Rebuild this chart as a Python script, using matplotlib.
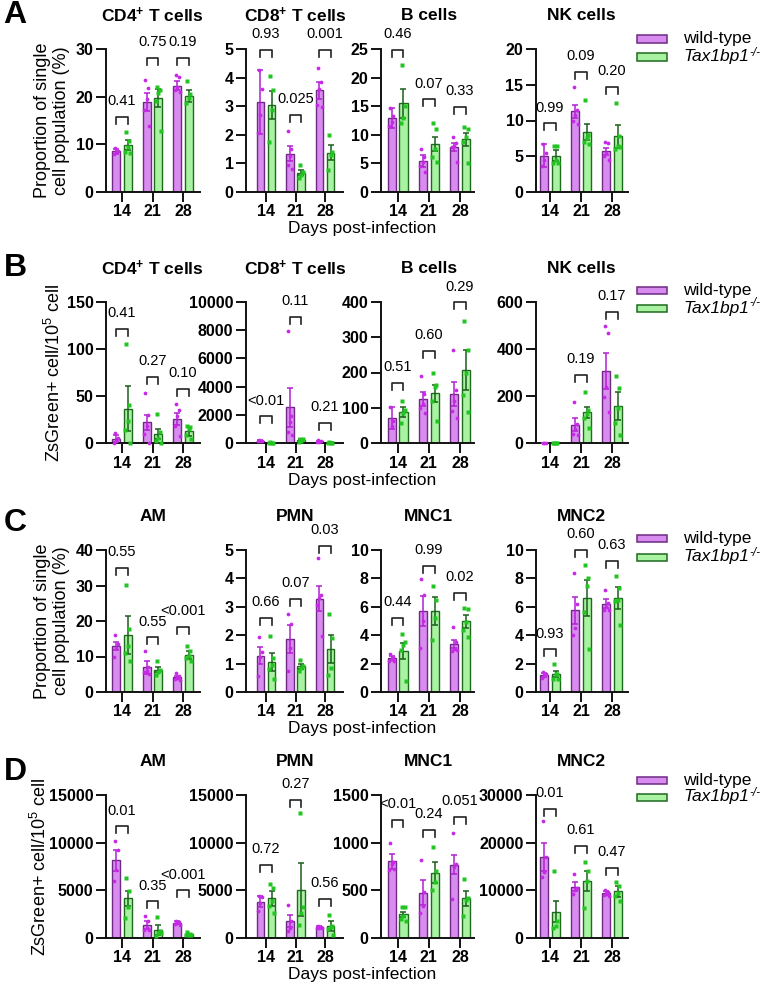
import matplotlib
matplotlib.use('Agg')
import matplotlib.pyplot as plt
from matplotlib.patches import Rectangle

plt.rcParams['font.family'] = ['Liberation Sans', 'DejaVu Sans']
plt.rcParams['mathtext.fontset'] = 'custom'
plt.rcParams['mathtext.rm'] = 'Liberation Sans'
plt.rcParams['mathtext.it'] = 'Liberation Sans:italic'
plt.rcParams['mathtext.bf'] = 'Liberation Sans:bold'
plt.rcParams['mathtext.default'] = 'regular'

# ---------------- data ----------------
days = ['14', '21', '28']
series = ['wild-type', 'Tax1bp1']
series_sup = [None, '-/-']

# Row A: proportion of single cell population (%)
A_titles = [r'CD4$^{\mathbf{+}}$ T cells', r'CD8$^{\mathbf{+}}$ T cells', 'B cells', 'NK cells']
A_yticks = [[0, 10, 20, 30], [0, 1, 2, 3, 4, 5], [0, 5, 10, 15, 20, 25], [0, 5, 10, 15, 20]]
A_wt_mean = [[8.5, 18.8, 22.3], [3.15, 1.34, 3.56], [12.9, 5.4, 7.9], [5.1, 11.3, 5.7]]
A_wt_sem = [[0.6, 1.9, 1.0], [1.13, 0.26, 0.30], [1.7, 1.0, 0.7], [1.6, 0.9, 0.5]]
A_ko_mean = [[9.9, 19.7, 20.1], [3.04, 0.68, 1.38], [15.5, 8.4, 9.2], [5.1, 8.4, 7.8]]
A_ko_sem = [[1.1, 1.9, 1.3], [0.50, 0.10, 0.27], [2.5, 1.3, 1.2], [0.8, 1.1, 1.6]]
A_wt_pts = [[[9.2, 8.6, 8.3, 7.9], [23.4, 21.8, 19.5, 17.2, 13.8], [24.6, 24.2, 22.0, 21.5, 20.9]],
            [[4.25, 3.6, 2.7, 2.05], [2.14, 1.5, 1.25, 0.95, 0.82], [4.32, 3.86, 3.6, 3.05, 2.98]],
            [[14.6, 13.2, 12.2, 11.6], [7.6, 6.2, 5.2, 4.5, 3.5], [9.7, 8.5, 8.0, 7.8, 5.3]],
            [[6.7, 5.5, 4.5, 3.7], [14.7, 11.5, 10.8, 10.0, 9.5], [7.0, 6.9, 5.5, 5.0, 4.5]]]
A_ko_pts = [[[12.6, 10.6, 9.5, 8.4, 8.2], [22.0, 21.5, 20.8, 19.0, 12.8], [23.3, 20.5, 19.8, 18.6]],
            [[4.05, 3.55, 2.85, 1.75], [0.96, 0.7, 0.6, 0.5], [2.01, 1.4, 1.3, 0.76]],
            [[22.2, 15.0, 13.0, 12.0], [12.0, 11.1, 7.6, 6.1, 5.2], [11.4, 11.1, 9.7, 8.8, 5.0]],
            [[6.5, 6.5, 4.5, 4.0, 4.0], [12.9, 8.0, 7.5, 7.0, 6.7], [12.4, 7.8, 6.5, 6.0, 6.3]]]
A_bracket = [[15.8, 28.1, 28.1], [4.98, 2.69, 4.98], [24.9, 16.2, 14.9], [9.6, 16.8, 14.7]]
A_p = [['0.41', '0.75', '0.19'], ['0.93', '0.025', '0.001'], ['0.46', '0.07', '0.33'], ['0.99', '0.09', '0.20']]

# Row B: ZsGreen+ cells per 10^5 cells
B_titles = A_titles
B_yticks = [[0, 50, 100, 150], [0, 2000, 4000, 6000, 8000, 10000], [0, 100, 200, 300, 400], [0, 200, 400, 600]]
B_wt_mean = [[4.6, 21.9, 25.8], [150, 2540, 120], [70.6, 125, 139], [0, 78, 306]]
B_wt_sem = [[3.5, 8.0, 6.5], [30, 1390, 40], [32, 20, 35], [0, 28, 75]]
B_ko_mean = [[36.4, 9.9, 12.4], [20, 190, 30], [89, 141, 207], [0, 130, 158]]
B_ko_sem = [[24, 5.5, 5.0], [10, 60, 10], [14, 24, 57], [0, 25, 58]]
B_wt_pts = [[[11, 5, 2.5, 0], [53, 30, 18, 10, 0], [41, 35, 29, 18, 7]],
            [[200, 160, 130, 110], [7950, 1900, 1500, 800, 550], [180, 150, 100, 60]],
            [[103, 62, 47], [190, 140, 110, 100, 85], [264, 150, 120, 90, 71]],
            [[0, 0, 0], [176, 80, 60, 40, 34], [497, 469, 240, 195, 130]]]
B_ko_pts = [[[105, 40, 23, 14, 0], [31, 12, 5, 2, 0], [18, 17, 15, 8, 4]],
            [[40, 20, 10, 10], [300, 250, 150, 60], [50, 30, 20, 20]],
            [[120, 95, 85, 56], [200, 165, 160, 120, 61], [346, 264, 200, 135, 89]],
            [[0, 0, 0, 0], [215, 140, 125, 105, 64], [285, 233, 150, 85, 35]]]
B_bracket = [[121.8, 69.9, 57.2], [1880, 8940, 1410], [171, 261, 399], [None, 289, 558]]
B_p = [['0.41', '0.27', '0.10'], ['<0.01', '0.11', '0.21'], ['0.51', '0.60', '0.29'], [None, '0.19', '0.17']]

# Row C: proportion of single cell population (%)
C_titles = ['AM', 'PMN', 'MNC1', 'MNC2']
C_yticks = [[0, 10, 20, 30, 40], [0, 1, 2, 3, 4, 5], [0, 2, 4, 6, 8, 10], [0, 2, 4, 6, 8, 10]]
C_wt_mean = [[13.0, 7.0, 4.2], [1.28, 1.86, 3.29], [2.38, 5.69, 3.38], [1.21, 5.76, 6.22]]
C_wt_sem = [[1.2, 1.8, 0.4], [0.30, 0.50, 0.44], [0.15, 1.05, 0.28], [0.12, 0.95, 0.30]]
C_ko_mean = [[16.1, 6.3, 10.5], [1.07, 0.90, 1.52], [2.91, 5.71, 4.99], [1.28, 6.62, 6.62]]
C_ko_sem = [[5.3, 0.8, 1.1], [0.32, 0.10, 0.50], [0.56, 0.98, 0.46], [0.20, 1.30, 0.77]]
C_wt_pts = [[[16.1, 13.5, 12.5, 10.0], [11.6, 7.0, 6.0, 5.5, 5.0], [5.3, 4.5, 4.0, 3.8, 3.4]],
            [[1.92, 1.4, 1.25, 0.55], [2.74, 2.4, 1.55, 0.75], [4.71, 3.4, 3.3, 3.05, 1.98]],
            [[2.7, 2.5, 2.3, 2.2, 2.2], [7.97, 6.8, 5.0, 3.08], [4.55, 3.5, 3.0, 2.9, 2.95]],
            [[1.38, 1.3, 1.15, 1.0], [8.37, 6.2, 4.5, 4.0], [7.2, 6.3, 6.0, 5.8, 5.8]]]
C_ko_pts = [[[30.1, 17.7, 13.0, 10.9, 8.8], [8.6, 6.2, 5.5, 4.9], [13.0, 11.5, 10.2, 9.5, 8.8]],
            [[1.98, 1.2, 0.95, 0.8, 0.45], [1.13, 0.9, 0.85, 0.75], [2.73, 1.9, 0.85, 0.6]],
            [[4.06, 3.5, 3.3, 2.95, 0.75], [7.44, 6.5, 5.2, 3.66], [5.92, 5.85, 4.9, 4.4, 3.9]],
            [[1.96, 1.3, 1.3, 0.9, 0.95], [8.97, 8.0, 7.5, 5.6, 3.0], [8.2, 7.3, 6.5, 6.4, 4.7]]]
C_bracket = [[35.0, 15.4, 18.4], [2.61, 3.29, 5.15], [5.24, 8.9, 6.97], [3.0, 10.0, 9.25]]
C_p = [['0.55', '0.55', '<0.001'], ['0.66', '0.07', '0.03'], ['0.44', '0.99', '0.02'], ['0.93', '0.60', '0.63']]

# Row D: ZsGreen+ cells per 10^5 cells
D_titles = C_titles
D_yticks = [[0, 5000, 10000, 15000], [0, 5000, 10000, 15000], [0, 500, 1000, 1500], [0, 10000, 20000, 30000]]
D_wt_mean = [[8160, 1350, 1600], [3810, 1760, 1130], [803, 475, 768], [17020, 10780, 9360]]
D_wt_sem = [[1100, 450, 150], [600, 640, 80], [77, 134, 98], [2900, 900, 400]]
D_ko_mean = [[4150, 815, 390], [4160, 5050, 1230], [250, 687, 415], [5530, 12060, 9790]]
D_ko_sem = [[830, 530, 80], [780, 2780, 530], [25, 105, 81], [2250, 2100, 1200]]
D_wt_pts = [[[10140, 9200, 7100, 5960], [2300, 1800, 1000, 815, 800], [1800, 1700, 1600, 1500, 1400]],
            [[4400, 4300, 3700, 2850], [3420, 1800, 1060, 760], [1250, 1200, 1100, 1000, 1100]],
            [[997, 800, 780, 715, 725], [813, 480, 340, 264], [1102, 780, 750, 408]],
            [[24470, 17000, 13800, 12800], [13470, 10500, 10000, 9150], [10000, 9600, 9300, 9000, 8900]]]
D_ko_pts = [[[6310, 4900, 3300, 2130], [2160, 700, 500, 200, 500], [600, 400, 350, 300, 300]],
            [[5710, 5200, 3900, 3350, 2650], [13060, 3200, 2600, 1340], [2400, 1300, 1200, 900, 350]],
            [[320, 320, 230, 200, 180], [954, 700, 590, 503], [616, 420, 395, 229]],
            [[14040, 3500, 2600, 2000], [15960, 14000, 12000, 6380], [11840, 11000, 9500, 8800, 7800]]]
D_bracket = [[11700, 3830, 5000], [7690, 14450, 4060], [1236, 1130, 1271], [27160, 19290, 14750]]
D_p = [['0.01', '0.35', '<0.001'], ['0.72', '0.27', '0.56'], ['<0.01', '0.24', '0.051'], ['0.01', '0.61', '0.47']]

ylab_prop = 'Proportion of single\ncell population (%)'
ylab_zs = 'ZsGreen+ cell/10$^5$ cell'
xlab = 'Days post-infection'

# ---------------- style ----------------
WT_FILL, WT_EDGE, WT_DOT, WT_ERR = '#D98CF0', '#6E2A82', '#C62AE6', '#B21FD2'
KO_FILL, KO_EDGE, KO_DOT, KO_ERR = '#A8F2A2', '#1F6A1F', '#22C422', '#1B5E1B'

W, H = 770, 992
fig = plt.figure(figsize=(W / 100, H / 100), dpi=100)

# layout in pixels
row_px = [(49, 192), (302, 443), (550, 692), (795, 938)]
col_px = [(106, 200), (246, 343), (381, 474), (536, 628)]
col_xlim = [(-0.525, 2.557), (-0.678, 2.61), (-0.528, 2.448), (-0.452, 2.516)]
letter_y = [15, 268, 523, 772]
ylab_x = [52, 54, 52, 40]
legend_y = [(39, 57), (290, 308), (538, 557), (780, 797)]

rows = [
    ('A', A_titles, A_yticks, A_wt_mean, A_wt_sem, A_ko_mean, A_ko_sem, A_wt_pts, A_ko_pts, A_bracket, A_p, ylab_prop),
    ('B', B_titles, B_yticks, B_wt_mean, B_wt_sem, B_ko_mean, B_ko_sem, B_wt_pts, B_ko_pts, B_bracket, B_p, ylab_zs),
    ('C', C_titles, C_yticks, C_wt_mean, C_wt_sem, C_ko_mean, C_ko_sem, C_wt_pts, C_ko_pts, C_bracket, C_p, ylab_prop),
    ('D', D_titles, D_yticks, D_wt_mean, D_wt_sem, D_ko_mean, D_ko_sem, D_wt_pts, D_ko_pts, D_bracket, D_p, ylab_zs),
]

OFF, BW = 0.19, 0.26
jit = [-0.05, 0.05, 0.0, -0.08, 0.08]


def fx(px):
    return px / W


def fy(py):
    return 1 - py / H


sup_texts = []
for r, (letter, titles, yticks, wm, ws, km, ks, wp, kp, brk, pv, ylab) in enumerate(rows):
    top, bot = row_px[r]
    for c in range(4):
        l, rr = col_px[c]
        ax = fig.add_axes([fx(l), fy(bot), (rr - l) / W, (bot - top) / H])
        ymax = yticks[c][-1]
        x = [0, 1, 2]
        xw = [i - OFF for i in x]
        xk = [i + OFF for i in x]
        ax.bar(xw, wm[c], width=BW, color=WT_FILL, edgecolor=WT_EDGE, linewidth=1.0, zorder=2)
        ax.bar(xk, km[c], width=BW, color=KO_FILL, edgecolor=KO_EDGE, linewidth=1.0, zorder=2)
        ax.errorbar(xw, wm[c], yerr=ws[c], fmt='none', ecolor=WT_ERR, elinewidth=1.1,
                    capsize=2.3, capthick=1.1, zorder=3)
        ax.errorbar(xk, km[c], yerr=ks[c], fmt='none', ecolor=KO_ERR, elinewidth=1.1,
                    capsize=2.3, capthick=1.1, zorder=3)
        for g in range(3):
            pts = wp[c][g]
            ax.plot([xw[g] + jit[i % 5] for i in range(len(pts))], pts, 'o', ms=2.7,
                    color=WT_DOT, mec='none', zorder=4, clip_on=False)
            pts = kp[c][g]
            ax.plot([xk[g] + jit[i % 5] for i in range(len(pts))], pts, 's', ms=2.6,
                    color=KO_DOT, mec='none', zorder=4, clip_on=False)
            if brk[c][g] is not None:
                y = brk[c][g]
                d = ymax * 7.0 / (bot - top)
                ax.plot([xw[g], xw[g], xk[g], xk[g]], [y - d, y, y, y - d], color='#222222',
                        lw=1.2, clip_on=False, zorder=5)
                ax.annotate(pv[c][g], xy=(g, y), xytext=(0, 8.5), textcoords='offset points',
                            ha='center', va='baseline', fontsize=10.5, annotation_clip=False)
        ax.set_xlim(*col_xlim[c])
        ax.set_ylim(0, ymax)
        ax.set_yticks(yticks[c])
        ax.set_xticks(x)
        ax.set_xticklabels(days)
        for s in ['top', 'right']:
            ax.spines[s].set_visible(False)
        for s in ['left', 'bottom']:
            ax.spines[s].set_linewidth(1.4)
            ax.spines[s].set_color('#111111')
        ax.tick_params(axis='both', length=7, width=1.4, color='#111111', labelsize=11.5, pad=2)
        for t in ax.get_xticklabels() + ax.get_yticklabels():
            t.set_fontweight('bold')
        ax.annotate(titles[c], xy=(1, 1), xycoords=('data', 'axes fraction'), xytext=(0, 24),
                    textcoords='offset points', ha='center', va='center', fontsize=12.5,
                    fontweight='bold', annotation_clip=False)
    # row texts
    fig.text(fx(15), fy(letter_y[r]), letter, fontsize=23, fontweight='bold', ha='center', va='center')
    fig.text(fx(ylab_x[r]), fy((top + bot) / 2), ylab, rotation=90, ha='center', va='center',
             fontsize=13, linespacing=1.15)
    fig.text(fx(362), fy(bot + 37), xlab, ha='center', va='center', fontsize=12.5)
    # legend
    for i, (fc, ec) in enumerate([(WT_FILL, WT_EDGE), (KO_FILL, KO_EDGE)]):
        yc = legend_y[r][i]
        fig.add_artist(Rectangle((fx(637), fy(yc + 3.5)), 30 / W, 7 / H, transform=fig.transFigure,
                                 facecolor=fc, edgecolor=ec, linewidth=1.1))
        t = fig.text(fx(683), fy(yc), series[i], ha='left', va='center', fontsize=12.5,
                     style='italic' if i == 1 else 'normal')
        if series_sup[i]:
            sup_texts.append((t, series_sup[i]))

# superscripts after the italic gene name
fig.canvas.draw()
renderer = fig.canvas.get_renderer()
for t, s in sup_texts:
    bb = t.get_window_extent(renderer)
    fig.text((bb.x1 + 1) / W, (bb.y1 - 3) / H, s, ha='left', va='center', fontsize=8.5,
             style='italic')

fig.savefig('out.png', dpi=100)
